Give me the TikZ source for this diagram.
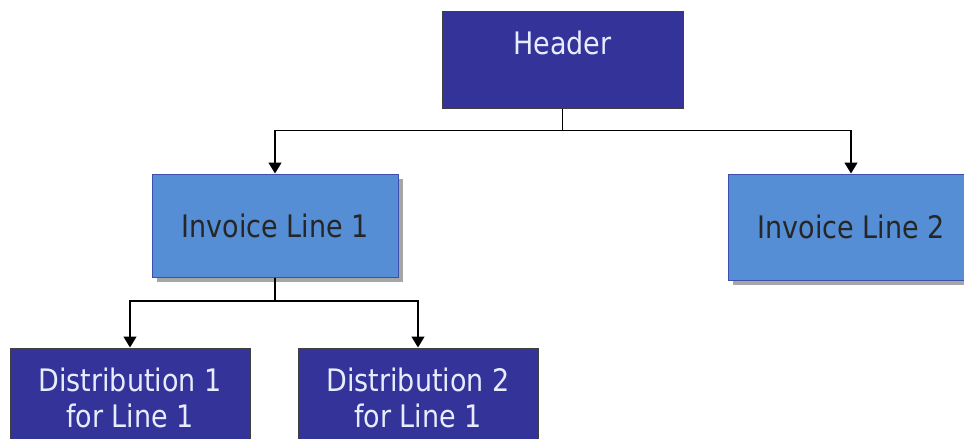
\documentclass[tikz,border=0pt]{standalone}
\usepackage{fontspec}
\setmainfont{DejaVu Sans}[FakeStretch=0.87]
\usetikzlibrary{arrows.meta,shadows}
\definecolor{darkbox}{HTML}{333399}
\definecolor{lightbox}{HTML}{558ED5}
\definecolor{lighttext}{HTML}{E8ECFF}
\tikzset{
	darknode/.style={shape=rectangle, draw=black!75, fill=darkbox, text=lighttext, align=center, line width=1pt},
	lightnode/.style={shape=rectangle, draw=darkbox!70!lightbox, fill=lightbox, text=black!85, line width=1pt,
		drop shadow={shadow xshift=5pt, shadow yshift=-5pt, opacity=0.35, fill=black}},
	link/.style={draw=black, line width=1.5pt, -{Triangle[width=13pt,length=11pt]}}
}
\begin{document}
\begin{tikzpicture}[x=1pt, y=-1pt, font=\fontsize{31}{36}\selectfont, inner sep=0pt]
	\useasboundingbox (0,0) rectangle (964,439);
	\node[darknode, minimum width=241pt, minimum height=97pt] (header) at (562.5,59.5) {Header\\[-14pt]\strut};
	\node[lightnode, minimum width=246pt, minimum height=103pt] (line1) at (275,225.5) {Invoice Line 1};
	\node[lightnode, minimum width=246pt, minimum height=106pt] (line2) at (851,227) {Invoice Line 2};
	\node[darknode, minimum width=240pt, minimum height=100pt] (dist1) at (130,398) {Distribution 1\\for Line 1};
	\node[darknode, minimum width=240pt, minimum height=100pt] (dist2) at (418,398) {Distribution 2\\for Line 1};
	\draw[link] (header.south) -- ++(0,22) -| (line1.north);
	\draw[link] (header.south) -- ++(0,22) -| (line2.north);
	\draw[link] (line1.south) -- ++(0,23.5) -| (dist1.north);
	\draw[link] (line1.south) -- ++(0,23.5) -| (dist2.north);
\end{tikzpicture}
\end{document}
